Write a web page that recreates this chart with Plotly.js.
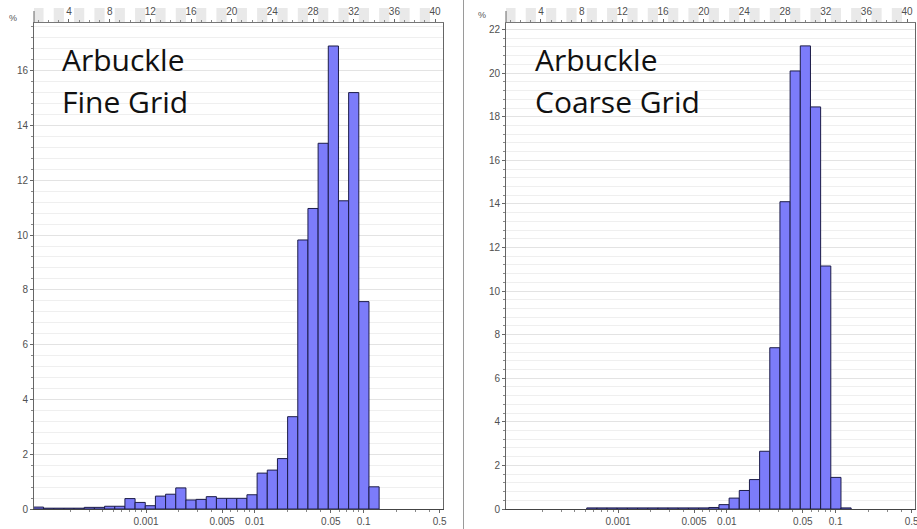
<!DOCTYPE html>
<html>
<head>
<meta charset="utf-8">
<script src="https://cdn.plot.ly/plotly-3.0.1.min.js"></script>
<style>html,body{margin:0;padding:0;background:#fff;}#chart{width:917px;height:529px;}</style>
</head>
<body>
<div id="chart"></div>
<script>
// Bin numbers (top axis)
const bins = [1,2,3,4,5,6,7,8,9,10,11,12,13,14,15,16,17,18,19,20,21,22,23,24,25,26,27,28,29,30,31,32,33,34];
// Percent per bin, Arbuckle fine grid
const fineValues = [0.07,0.03,0.03,0.03,0.03,0.06,0.06,0.1,0.1,0.38,0.24,0.12,0.47,0.54,0.77,0.33,0.35,0.45,0.39,0.39,0.39,0.52,1.31,1.42,1.84,3.37,9.82,10.97,13.35,16.9,11.25,15.2,7.57,0.81];
// Percent per bin, Arbuckle coarse grid
const coarseValues = [null,null,null,null,null,null,null,null,0.05,0.05,0.05,0.05,0.05,0.05,0.05,0.05,0.05,0.05,0.05,0.05,0.07,0.2,0.5,0.85,1.35,2.65,7.4,14.1,20.1,21.25,18.45,11.15,1.45,0.05];
// Axis labels
const topTicks = [4,8,12,16,20,24,28,32,36,40];
const logTicks = [0.001,0.005,0.01,0.05,0.1,0.5];
const logTickText = ['0.001','0.005','0.01','0.05','0.1','0.5'];
const panelLabels = [['Arbuckle','Fine Grid'],['Arbuckle','Coarse Grid']];

const W = 917, H = 529;
const px = v => v / W, py = v => (H - v) / H;

const barColor = 'rgb(124,124,250)';
const barLine = '#1c1c48';
const tickFont = {family:'Liberation Sans, Arial, sans-serif', size:10, color:'#505050'};

const logMinor = [];
[1e-4,1e-3,1e-2,1e-1].forEach(d => { for (let m=2;m<=9;m++) logMinor.push(+(m*d).toPrecision(3)); });

const binRange = [0.56, 40.78];
const logRange = [-4.03, -0.27];

function topAxis(domain, anchor){
  return {domain, anchor, side:'top', range:binRange, showgrid:false, zeroline:false,
    showline:true, linecolor:'#777', linewidth:1,
    tickmode:'array', tickvals:topTicks, ticks:'outside', ticklen:3, tickcolor:'#666',
    tickfont:tickFont, fixedrange:true,
    minor:{dtick:1, tick0:0, ticks:'outside', ticklen:2, tickcolor:'#888', showgrid:false}};
}
function logAxis(over, anchor){
  return {overlaying:over, anchor, side:'bottom', type:'log', range:logRange,
    showgrid:false, zeroline:false, showline:true, linecolor:'#444', linewidth:1,
    tickmode:'array', tickvals:logTicks, ticktext:logTickText, ticks:'outside', ticklen:3, tickcolor:'#666',
    tickfont:tickFont, fixedrange:true, ticklabeloverflow:'allow',
    minor:{tickvals:logMinor, ticks:'outside', ticklen:2, tickcolor:'#888', showgrid:false}};
}
function yAxis(anchor, top){
  return {anchor, domain:[py(509), py(23)], range:[0, top], zeroline:false,
    showline:true, linecolor:'#666', linewidth:1, mirror:true,
    dtick:2, tick0:0, ticks:'outside', ticklen:3, tickcolor:'#666', tickfont:tickFont,
    showgrid:true, gridcolor:'#e3e3e3', gridwidth:1, fixedrange:true,
    minor:{dtick:0.4, tick0:0, ticks:'outside', ticklen:2, tickcolor:'#888', showgrid:true, gridcolor:'#efefef'}};
}

const traces = [
  {type:'bar', x:bins, y:fineValues, xaxis:'x', yaxis:'y', width:1,
   marker:{color:barColor, line:{color:barLine, width:1}}, hoverinfo:'x+y'},
  {type:'scatter', mode:'markers', x:logTicks, y:logTicks.map(()=>0), xaxis:'x2', yaxis:'y',
   marker:{opacity:0}, hoverinfo:'skip'},
  {type:'bar', x:bins, y:coarseValues, xaxis:'x3', yaxis:'y2', width:1,
   marker:{color:barColor, line:{color:barLine, width:1}}, hoverinfo:'x+y'},
  {type:'scatter', mode:'markers', x:logTicks, y:logTicks.map(()=>0), xaxis:'x4', yaxis:'y2',
   marker:{opacity:0}, hoverinfo:'skip'}
];

// decorative stripes in the top axis band
const shapes = [];
[['x',23],['x3',22]].forEach(([xr, lineY]) => {
  for (let u=1; u<=40; u+=2){
    shapes.push({type:'rect', xref:xr, yref:'paper', x0:u-0.5, x1:u+0.5, y0:py(lineY), y1:py(8),
      fillcolor:'#e9e9e9', line:{width:0}, layer:'below'});
  }
});
// y-axis line extension above the top axis
shapes.push({type:'line', xref:'paper', yref:'paper', x0:px(34), x1:px(34), y0:py(23), y1:py(11), line:{color:'#666', width:1}});
shapes.push({type:'line', xref:'paper', yref:'paper', x0:px(506), x1:px(506), y0:py(22), y1:py(11), line:{color:'#666', width:1}});
// separator between the two screenshots
shapes.push({type:'line', xref:'paper', yref:'paper', x0:px(463.5), x1:px(463.5), y0:0, y1:1, line:{color:'#9a9a9a', width:1}});

const labelFont = {family:'Open Sans, sans-serif', size:30, color:'#111'};
const annotations = [
  {xref:'paper', yref:'paper', x:px(60), y:py(60), xanchor:'left', yanchor:'middle', text:panelLabels[0][0], showarrow:false, font:labelFont},
  {xref:'paper', yref:'paper', x:px(60), y:py(102), xanchor:'left', yanchor:'middle', text:panelLabels[0][1], showarrow:false, font:labelFont},
  {xref:'paper', yref:'paper', x:px(533), y:py(60), xanchor:'left', yanchor:'middle', text:panelLabels[1][0], showarrow:false, font:labelFont},
  {xref:'paper', yref:'paper', x:px(533), y:py(102), xanchor:'left', yanchor:'middle', text:panelLabels[1][1], showarrow:false, font:labelFont},
  {xref:'paper', yref:'paper', x:px(13), y:py(18), xanchor:'center', yanchor:'middle', text:'%', showarrow:false, font:{family:tickFont.family, size:9, color:'#555'}},
  {xref:'paper', yref:'paper', x:px(482), y:py(15), xanchor:'center', yanchor:'middle', text:'%', showarrow:false, font:{family:tickFont.family, size:9, color:'#555'}}
];

const layout = {
  width:W, height:H, margin:{l:0,r:0,t:0,b:0},
  paper_bgcolor:'#fff', plot_bgcolor:'#fff', showlegend:false, bargap:0,
  xaxis: topAxis([px(34), px(443)], 'y'),
  xaxis2: logAxis('x', 'y'),
  yaxis: yAxis('x', 17.74),
  xaxis3: topAxis([px(506), px(915)], 'y2'),
  xaxis4: logAxis('x3', 'y2'),
  yaxis2: yAxis('x3', 22.3),
  shapes, annotations
};

Plotly.newPlot('chart', traces, layout, {displayModeBar:false, staticPlot:true});
</script>
</body>
</html>
